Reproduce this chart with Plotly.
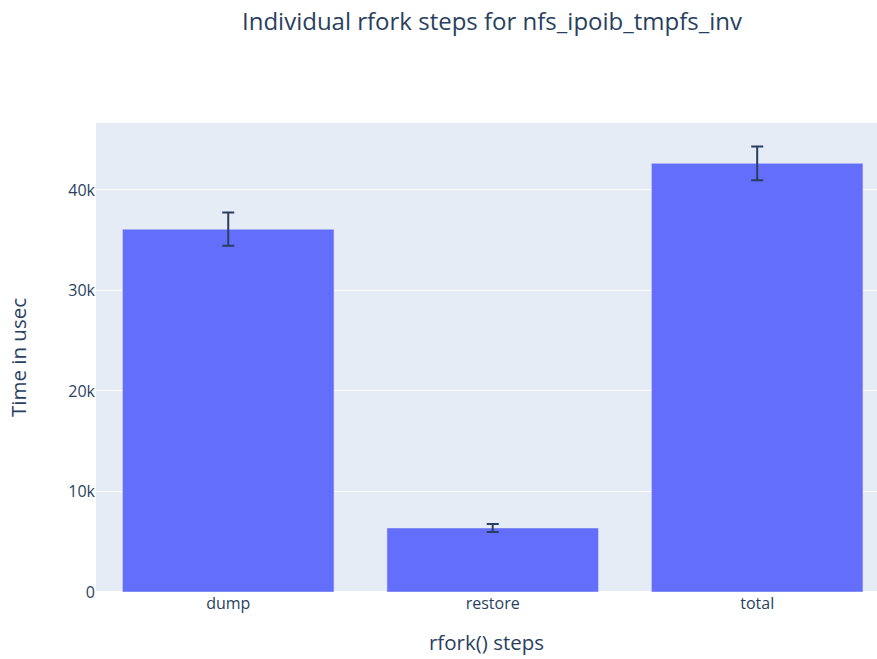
import plotly.graph_objects as go

steps = ["dump", "restore", "total"]
mean_usec = [36100, 6370, 42650]
err_usec = [1650, 400, 1680]

fig = go.Figure(
    go.Bar(
        x=steps,
        y=mean_usec,
        error_y=dict(type="data", array=err_usec, visible=True, thickness=2, width=6),
    )
)

fig.update_layout(
    width=877,
    height=659,
    margin=dict(l=96, r=0, t=123, b=67),
    font=dict(family="Open Sans", size=16, color="#2a3f5f"),
    title=dict(
        text="Individual rfork steps for nfs_ipoib_tmpfs_inv",
        x=492 / 877,
        xref="container",
        xanchor="center",
        y=1 - 22 / 659,
        yref="container",
        yanchor="middle",
        font=dict(size=24),
    ),
    xaxis=dict(
        range=[-0.5, 2.453],
        title=dict(text="rfork() steps", font=dict(size=20.5), standoff=22),
    ),
    yaxis=dict(
        dtick=10000,
        title=dict(text="Time in usec", font=dict(size=20.5), standoff=36),
    ),
)

fig.write_html("out.html")
